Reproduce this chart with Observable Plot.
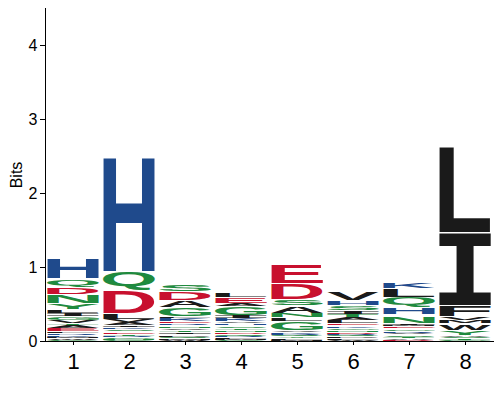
<!DOCTYPE html>
<html><head><meta charset="utf-8">
<script src="https://cdn.jsdelivr.net/npm/d3@7"></script>
<script src="https://cdn.jsdelivr.net/npm/@observablehq/plot@0.6"></script>
<style>body{margin:0;background:#fff}</style>
</head><body><div id="chart"></div>
<script>
// Sequence logo: per position, letters listed top to bottom with their heights (bits)
const positions = [1, 2, 3, 4, 5, 6, 7, 8];
const yTicks = [0, 1, 2, 3, 4];

const letters1 = ["H","Q","D","N","Y","L","I","G","V","T","A","E","F","R","K","M","W","C"];
const bits1    = [0.27,0.11,0.10,0.12,0.09,0.05,0.04,0.05,0.04,0.03,0.04,0.04,0.03,0.03,0.02,0.02,0.02,0.02];

const letters2 = ["H","Q","D","L","V","A","I","K","S","E","T","R","G","N","C"];
const bits2    = [1.56,0.26,0.31,0.08,0.04,0.04,0.03,0.03,0.03,0.03,0.03,0.02,0.02,0.02,0.01];

const letters3 = ["S","D","A","G","L","K","E","R","N","V","T","I","P","Q","M","W"];
const bits3    = [0.10,0.12,0.10,0.12,0.03,0.04,0.03,0.03,0.03,0.03,0.03,0.03,0.03,0.03,0.02,0.01];

const letters4 = ["L","E","A","G","I","K","V","H","S","T","N","D","Q","R","F","M","C"];
const bits4    = [0.07,0.08,0.05,0.12,0.04,0.04,0.03,0.03,0.03,0.03,0.03,0.03,0.02,0.02,0.02,0.02,0.01];

const letters5 = ["E","D","S","A","N","L","G","V","K","R","Q","Y","F","M"];
const bits5    = [0.26,0.22,0.09,0.10,0.06,0.05,0.12,0.03,0.02,0.02,0.02,0.02,0.02,0.02];

const letters6 = ["V","H","S","I","T","A","L","E","K","G","N","D","R","Q","P","F","W"];
const bits6    = [0.11,0.06,0.07,0.05,0.05,0.04,0.04,0.03,0.03,0.03,0.03,0.02,0.02,0.02,0.02,0.02,0.02];

const letters7 = ["K","L","Q","H","N","I","M","E","G","R","V","S","T","A","D"];
const bits7    = [0.09,0.11,0.14,0.10,0.11,0.03,0.02,0.03,0.03,0.03,0.02,0.03,0.02,0.02,0.02];

const letters8 = ["L","I","F","V","M","W","Y","A","S","T","G"];
const bits8    = [1.16,0.98,0.15,0.05,0.05,0.09,0.07,0.02,0.02,0.02,0.02];

const letterLists = [letters1, letters2, letters3, letters4, letters5, letters6, letters7, letters8];
const bitLists = [bits1, bits2, bits3, bits4, bits5, bits6, bits7, bits8];

const greenSet = "GSTYCQN", blueSet = "KRH", redSet = "DE";
const green = "#1f8a3e", blue = "#1f4a8c", red = "#c8102e", black = "#1a1a1a";
const colorOf = (l) => greenSet.includes(l) ? green : blueSet.includes(l) ? blue : redSet.includes(l) ? red : black;

const rows = [];
positions.forEach((p, i) => {
  const L = letterLists[i], B = bitLists[i];
  for (let j = L.length - 1; j >= 0; j--) rows.push({pos: p, letter: L[j], bits: B[j], color: colorOf(L[j])});
});

const chart = Plot.plot({
  width: 500, height: 400,
  marginLeft: 45, marginRight: 7, marginTop: 8, marginBottom: 59,
  style: {fontFamily: "'Liberation Sans', Arial, sans-serif", background: "#fff", color: "#000"},
  x: {type: "band", domain: positions, paddingInner: 0.07, paddingOuter: 0.035},
  y: {domain: [0, 4.5]},
  marks: [
    Plot.barY(rows, {x: "pos", y: "bits", fill: "color", title: "letter"}),
    Plot.frame({anchor: "left"}),
    Plot.frame({anchor: "bottom"}),
    Plot.axisY({ticks: yTicks, tickFormat: (d) => String(d), tickSize: 5, tickPadding: 3, fontSize: 16,
      label: "Bits", labelAnchor: "center", labelArrow: "none", labelOffset: 35}),
    Plot.axisX({tickSize: 4, tickPadding: 8, fontSize: 22, label: null})
  ]
});
document.getElementById("chart").append(chart);

// Turn each stacked bar into a letter glyph stretched to fill it
const ctx = document.createElement("canvas").getContext("2d");
const NS = "http://www.w3.org/2000/svg";
const barGroup = chart.querySelector('g[aria-label="bar"]');
for (const r of Array.from(barGroup.querySelectorAll("rect"))) {
  const x = +r.getAttribute("x"), y = +r.getAttribute("y");
  const w = +r.getAttribute("width"), h = +r.getAttribute("height");
  const tEl = r.querySelector("title");
  const letter = tEl ? tEl.textContent : "";
  const fill = r.getAttribute("fill");
  const fam = letter === "I" ? "'DejaVu Sans Mono'" : "'Liberation Sans'";
  ctx.font = `bold 100px ${fam}`;
  ctx.textAlign = "left";
  ctx.textBaseline = "alphabetic";
  const m = ctx.measureText(letter);
  const bl = m.actualBoundingBoxLeft, br = m.actualBoundingBoxRight;
  const asc = m.actualBoundingBoxAscent, desc = m.actualBoundingBoxDescent;
  const gap = Math.min(1.2, h * 0.3);
  const hh = h - gap;
  const sx = w / (bl + br), sy = hh / (asc + desc);
  const t = document.createElementNS(NS, "text");
  t.textContent = letter;
  t.setAttribute("fill", fill);
  t.setAttribute("text-anchor", "start");
  t.style.fontFamily = fam;
  t.style.fontWeight = "bold";
  t.style.fontSize = "100px";
  t.setAttribute("transform", `translate(${x},${y + gap}) scale(${sx},${sy}) translate(${bl},${asc})`);
  r.replaceWith(t);
}
</script>
</body></html>
